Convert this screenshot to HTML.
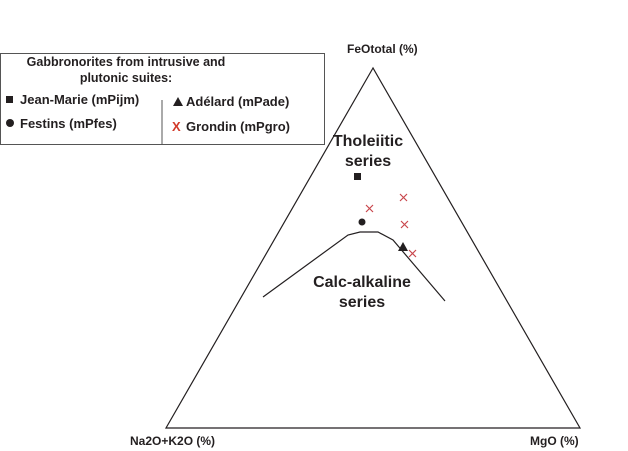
<!DOCTYPE html>
<html><head><style>body{margin:0;background:#fff}svg{display:block}text{font-family:"Liberation Sans",sans-serif;font-weight:bold;fill:#231f20}</style></head><body>
<svg width="628" height="451" viewBox="0 0 628 451">
<rect x="0.5" y="53.5" width="324" height="91" fill="none" stroke="#555" stroke-width="1"/>
<line x1="162" y1="100" x2="162" y2="145" stroke="#555"/>
<text x="126" y="66" font-size="12.5" text-anchor="middle">Gabbronorites from intrusive and</text>
<text x="126" y="82" font-size="12.5" text-anchor="middle">plutonic suites:</text>
<rect x="6" y="96" width="7" height="7" fill="#231f20"/>
<text x="20" y="104" font-size="13">Jean-Marie (mPijm)</text>
<circle cx="10" cy="123" r="4" fill="#231f20"/>
<text x="20" y="128" font-size="13">Festins (mPfes)</text>
<polygon points="173,106 178,97 183,106" fill="#231f20"/>
<text x="186" y="106" font-size="13">Adélard (mPade)</text>
<text x="172" y="131" font-size="13" style="fill:#d23a2a">X</text>
<text x="186" y="131" font-size="13">Grondin (mPgro)</text>
<polygon points="373,68 166,428 580,428" fill="none" stroke="#231f20" stroke-width="1.2"/>
<polyline points="263,297 348,235 360,232 378,232 393,240 445,301" fill="none" stroke="#231f20" stroke-width="1.2"/>
<text x="347" y="53" font-size="12">FeOtotal (%)</text>
<text x="130" y="445" font-size="12">Na2O+K2O (%)</text>
<text x="530" y="445" font-size="12">MgO (%)</text>
<text x="368" y="146" font-size="16" text-anchor="middle">Tholeiitic</text>
<text x="368" y="166" font-size="16" text-anchor="middle">series</text>
<text x="362" y="287" font-size="16" text-anchor="middle">Calc-alkaline</text>
<text x="362" y="307" font-size="16" text-anchor="middle">series</text>
<rect x="354" y="173" width="7" height="7" fill="#231f20"/>
<circle cx="362" cy="222" r="3.5" fill="#231f20"/>
<polygon points="398,251 403,242 408,251" fill="#231f20"/>
<g stroke="#c9474d" stroke-width="1.2">
<path d="M366,205l7,7M373,205l-7,7"/>
<path d="M400,194l7,7M407,194l-7,7"/>
<path d="M401,221l7,7M408,221l-7,7"/>
<path d="M409,250l7,7M416,250l-7,7"/>
</g>
</svg>
</body></html>
